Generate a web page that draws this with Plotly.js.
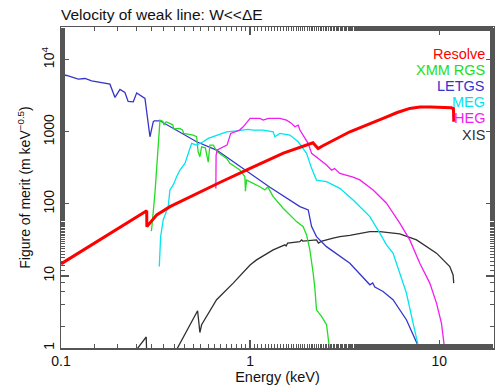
<!DOCTYPE html>
<html><head><meta charset="utf-8">
<script src="https://cdn.plot.ly/plotly-3.0.1.min.js"></script>
<style>body{margin:0;background:#fff}#chart{width:495px;height:386px}</style>
</head><body><div id="chart"></div>
<script>
// Resolve
const resolveE = [0.1, 0.15, 0.2, 0.25, 0.284, 0.2845, 0.3206, 0.377, 0.45, 0.544, 0.56, 0.7, 1.0, 1.5, 2.15, 2.29, 2.4, 3.37, 5.05, 6.0, 6.99, 7.9, 9.0, 10.0, 11.6, 11.9, 11.95];
const resolveV = [14.7, 28.5, 45.6, 65.6, 80.5, 48.3, 70.2, 91.5, 115, 148, 150, 201, 311, 505, 704, 585, 630, 1000, 1535, 1850, 2110, 2200, 2210, 2200, 2150, 2100, 1375];
// XMM RGS
const rgsE = [0.300, 0.3015, 0.314, 0.325, 0.3338, 0.345, 0.350, 0.36, 0.3767, 0.39, 0.395, 0.425, 0.44, 0.445, 0.5004, 0.5213, 0.5313, 0.5427, 0.5541, 0.58, 0.6006, 0.6131, 0.6383, 0.670, 0.7513, 0.7823, 0.8834, 0.9386, 0.945, 0.958, 1.127, 1.198, 1.24, 1.325, 1.496, 1.657, 1.761, 1.909, 1.989, 2.071, 2.115, 2.156, 2.200, 2.245, 2.388, 2.537, 2.641];
const rgsV = [42, 44.5, 141, 557, 1452, 1400, 1250, 1380, 1307, 1250, 1100, 1114, 1050, 950, 900, 853, 528, 451, 620, 600, 380, 654, 654, 528, 428, 365, 295, 238, 150, 214, 173, 156, 172, 126, 87, 66.5, 56.7, 48.3, 37.1, 23, 16.7, 10.9, 6.84, 3.39, 2.74, 2.10, 0.9];
// LETGS
const letgsE = [0.1, 0.1072, 0.1234, 0.1339, 0.1453, 0.1815, 0.1930, 0.2050, 0.2178, 0.2265, 0.2411, 0.2514, 0.2780, 0.2872, 0.2954, 0.3075, 0.3114, 0.3336, 0.40, 0.5213, 0.6651, 0.9194, 1.273, 1.834, 2.03, 2.115, 2.245, 2.535, 3.37, 4.30, 4.45, 4.57, 5.05, 5.70, 6.71, 7.90];
const letgsV = [6240, 6040, 5370, 5490, 5080, 4580, 2995, 3865, 3513, 2637, 2604, 3467, 2900, 1375, 853, 1375, 1420, 1420, 1082, 727, 558, 311, 170, 91.5, 82.4, 48.3, 35.1, 25.5, 15.0, 7.53, 8.0, 7.0, 6.08, 4.67, 2.47, 0.95];
// MEG
const megE = [0.331, 0.3365, 0.3471, 0.3690, 0.3767, 0.3923, 0.4088, 0.4256, 0.4522, 0.4709, 0.4908, 0.5213, 0.565, 0.6006, 0.6651, 0.7513, 0.8486, 0.977, 1.0385, 1.173, 1.325, 1.352, 1.437, 1.623, 1.796, 1.989, 2.115, 2.245, 2.537, 2.984, 3.507, 3.805, 4.30, 4.855, 5.266, 5.70, 6.19, 6.71, 7.28, 7.83];
const megV = [13.5, 35.1, 59.8, 91.5, 156, 183, 238, 295, 365, 502, 691, 654, 727, 811, 900, 1000, 1032, 1080, 1056, 1056, 1000, 853, 950, 900, 727, 502, 311, 214, 203, 164, 113, 91.5, 66.5, 39.2, 27.0, 20.7, 10.9, 5.79, 2.22, 0.95];
// HEG
const hegE = [0.659, 0.661, 0.670, 0.755, 0.79, 0.88, 0.92, 0.98, 1.0, 1.127, 1.173, 1.25, 1.437, 1.559, 1.657, 1.725, 1.796, 1.834, 1.909, 2.028, 2.115, 2.291, 2.537, 2.697, 2.8, 2.984, 3.507, 3.805, 4.474, 5.266, 6.19, 6.99, 7.90, 8.92, 9.68, 10.28, 10.70];
const hegV = [164, 470, 560, 654, 950, 1056, 1172, 1452, 1535, 1535, 1452, 1535, 1535, 1452, 1307, 1172, 1238, 1056, 900, 691, 502, 428, 346, 294, 310, 265, 235, 215, 156, 102, 53.9, 31.6, 15, 7.95, 4.2, 2.22, 0.95];
// XIS (null = gap)
const xisE = [0.251, 0.2823, 0.2835, null, 0.4088, 0.5277, 0.5427, 0.5541, 0.6651, 0.8141, 1.0, 1.082, 1.325, 1.528, 1.55, 1.58, 1.834, 1.87, 1.9, 2.245, 2.30, 2.339, 2.4, 2.749, 2.984, 3.37, 4.30, 4.855, 6.19, 7.59, 8.57, 9.68, 11.38, 11.85, 11.94];
const xisV = [0.95, 1.42, 0.95, null, 0.95, 3.29, 1.64, 2.10, 4.67, 7.95, 14.2, 16.7, 23, 27, 26, 28.5, 29.9, 31.6, 30.5, 31.6, 28.5, 29, 30.5, 33.4, 35.1, 36.5, 41.2, 41.2, 38.3, 31.6, 25.5, 20.7, 13.5, 10.3, 7.95];

const names = ['Resolve', 'XMM RGS', 'LETGS', 'MEG', 'HEG', 'XIS'];
const colors = ['#ff0000', '#22dd22', '#3535cc', '#00e5ef', '#f01ef0', '#303030'];
const yTickVals = [1, 10, 100, 1000, 10000];
const yTickText = ['1', '10', '100', '1000', '10<sup>4</sup>'];
const xTickVals = [0.1, 1, 10];
const xTickText = ['0.1', '1', '10'];

const series = [[resolveE, resolveV], [rgsE, rgsV], [letgsE, letgsV], [megE, megV], [hegE, hegV], [xisE, xisV]];
const font = 'Liberation Sans, Arial, Helvetica, sans-serif';
const order = [5, 2, 1, 3, 4, 0];
const traces = order.map(i => ({
  x: series[i][0], y: series[i][1], type: 'scatter', mode: 'lines', name: names[i],
  line: {color: colors[i], width: i === 0 ? 3 : 1.3}, connectgaps: false, showlegend: false
}));

const annotations = names.map((n, i) => ({
  text: n, xref: 'paper', yref: 'paper', x: 0.984, y: 0.917 - i * 0.0504,
  xanchor: 'right', yanchor: 'middle', showarrow: false,
  font: {family: font, size: 14.5, color: colors[i]}
}));

const axisCommon = {
  showgrid: false, zeroline: false, showline: true, linecolor: '#555', linewidth: 1.5,
  mirror: 'ticks', ticks: 'inside', ticklen: 8, tickwidth: 1.2, tickcolor: '#555',
  minor: {ticks: 'inside', ticklen: 4, tickwidth: 1, tickcolor: '#555', showgrid: false},
  tickfont: {family: font, size: 14, color: '#111'}
};

const layout = {
  width: 495, height: 386,
  margin: {l: 61, r: 1, t: 27, b: 38},
  paper_bgcolor: '#fff', plot_bgcolor: '#fff',
  font: {family: font, color: '#111'},
  title: {text: 'Velocity of weak line: W&lt;&lt;ΔE', xref: 'paper', x: 0, xanchor: 'left',
          yref: 'container', y: 1 - 15 / 386, yanchor: 'middle', font: {family: font, size: 15.5, color: '#111'}},
  xaxis: Object.assign({}, axisCommon, {
    type: 'log', range: [-1, 1.29], tickvals: xTickVals, ticktext: xTickText,
    title: {text: 'Energy (keV)', font: {family: font, size: 14.5}, standoff: 3}
  }),
  yaxis: Object.assign({}, axisCommon, {
    type: 'log', range: [0, 4.454], tickvals: yTickVals, ticktext: yTickText, tickangle: -90,
    title: {text: 'Figure of merit (m keV<sup>−0.5</sup>)', font: {family: font, size: 14}, standoff: 5}
  }),
  annotations: annotations,
  showlegend: false
};

Plotly.newPlot('chart', traces, layout, {displayModeBar: false, staticPlot: true});
</script></body></html>
